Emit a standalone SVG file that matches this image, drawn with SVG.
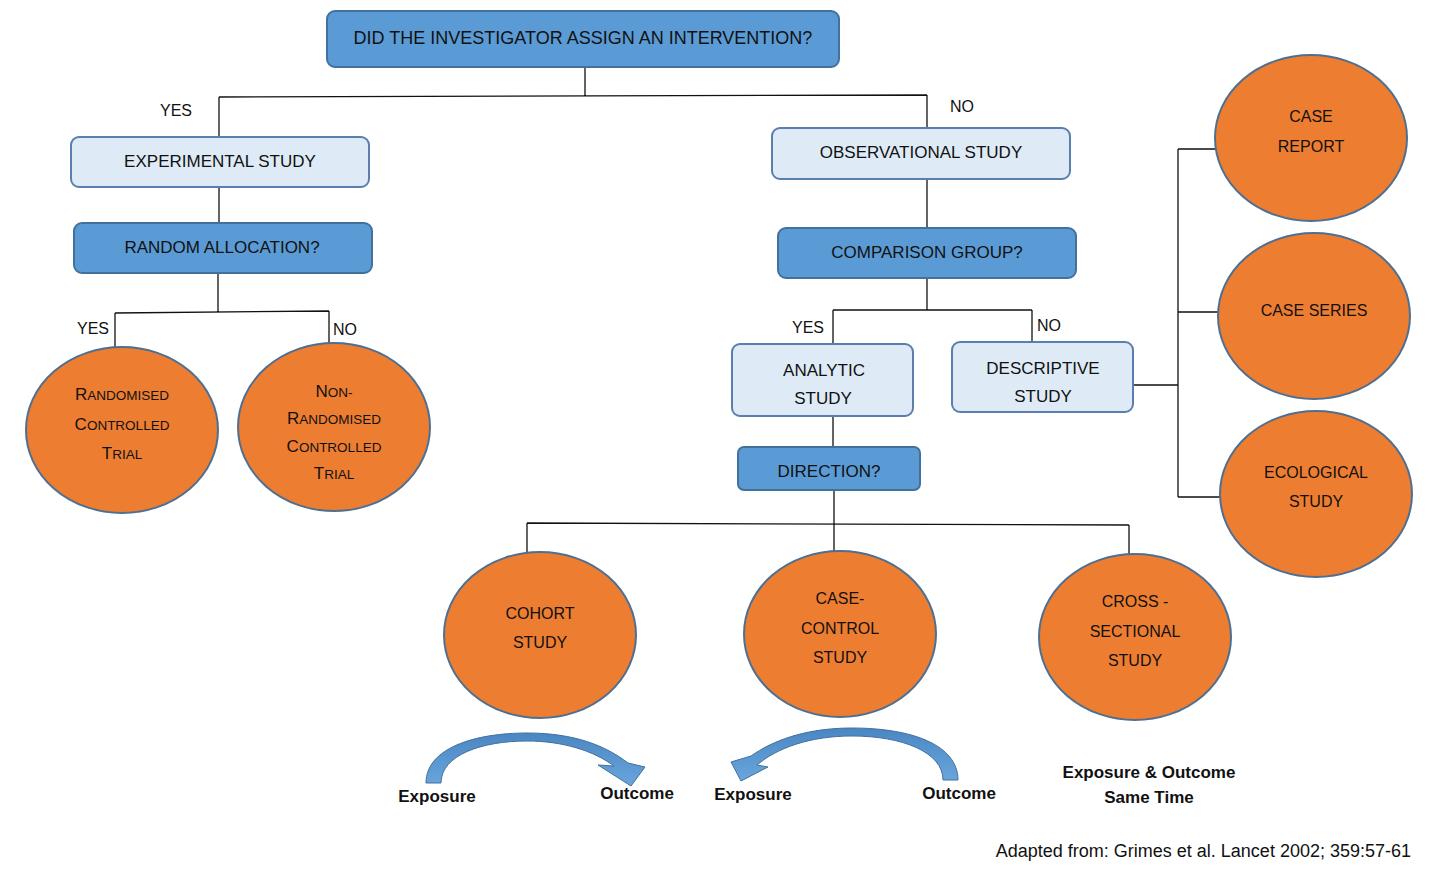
<svg xmlns="http://www.w3.org/2000/svg" width="1433" height="873" viewBox="0 0 1433 873">
<defs>
<style>
.dark{fill:#5b9bd5;stroke:#41719c;stroke-width:2}
.light{fill:#deebf7;stroke:#5a7fae;stroke-width:2}
.oval{fill:#ed7d31;stroke:#4f6f91;stroke-width:2}
.t{font-family:"Liberation Sans",Arial,sans-serif;font-size:17px;fill:#111;text-anchor:middle}
.o{font-size:16px}
.big{font-size:18px}
.lab{font-family:"Liberation Sans",Arial,sans-serif;font-size:16px;fill:#111;text-anchor:middle}
.b{font-family:"Liberation Sans",Arial,sans-serif;font-size:17px;font-weight:bold;fill:#111;text-anchor:middle}
.sc{font-size:13.5px}
.conn{stroke:#111;stroke-width:1.3;fill:none}
.arr{fill:url(#ag);stroke:#41719c;stroke-width:1}
</style>
<linearGradient id="ag" x1="0" y1="0" x2="0" y2="1">
<stop offset="0" stop-color="#4a86c2"/>
<stop offset="1" stop-color="#6aa6dc"/>
</linearGradient>
</defs>
<rect width="1433" height="873" fill="#fff"/>

<g id="connectors">
<path class="conn" d="M585,67 V96 M219,97 L927,95 M219,97 V137 M927,95 V128"/>
<path class="conn" d="M219,187 V223 M218,273 V312 M115,313 L329,311 M115,313 V347 M329,311 V345"/>
<path class="conn" d="M927,179 V228 M927,278 V310 M833,310 H1032 M833,310 V344 M1032,310 V342"/>
<path class="conn" d="M1133,385 H1178 M1178,149 V497 M1178,149 H1216 M1178,312 H1219 M1178,497 H1221"/>
<path class="conn" d="M833,416 V447 M834,490 V551 M527,523 L1129,525 M527,523 V552 M1129,525 V555"/>
</g>

<g id="labels">
<text class="lab" x="176" y="116">YES</text>
<text class="lab" x="962" y="112">NO</text>
<text class="lab" x="93" y="334">YES</text>
<text class="lab" x="345" y="335">NO</text>
<text class="lab" x="808" y="333">YES</text>
<text class="lab" x="1049" y="331">NO</text>
</g>

<g id="n-intervention">
<rect class="dark" x="327" y="11" width="512" height="56" rx="8"/>
<text class="t big" x="583" y="44">DID THE INVESTIGATOR ASSIGN AN INTERVENTION?</text>
</g>
<g id="n-experimental">
<rect class="light" x="71" y="137" width="298" height="50" rx="8"/>
<text class="t" x="220" y="167">EXPERIMENTAL STUDY</text>
</g>
<g id="n-random">
<rect class="dark" x="74" y="223" width="298" height="50" rx="8"/>
<text class="t" x="222" y="253">RANDOM ALLOCATION?</text>
</g>
<g id="n-rct">
<ellipse class="oval" cx="122" cy="430" rx="96" ry="83"/>
<text class="t" x="122" y="400">R<tspan class="sc">ANDOMISED</tspan></text>
<text class="t" x="122" y="430">C<tspan class="sc">ONTROLLED</tspan></text>
<text class="t" x="122" y="459">T<tspan class="sc">RIAL</tspan></text>
</g>
<g id="n-nrct">
<ellipse class="oval" cx="334" cy="427" rx="96" ry="84"/>
<text class="t" x="334" y="397">N<tspan class="sc">ON-</tspan></text>
<text class="t" x="334" y="424">R<tspan class="sc">ANDOMISED</tspan></text>
<text class="t" x="334" y="452">C<tspan class="sc">ONTROLLED</tspan></text>
<text class="t" x="334" y="479">T<tspan class="sc">RIAL</tspan></text>
</g>
<g id="n-observational">
<rect class="light" x="772" y="128" width="298" height="51" rx="8"/>
<text class="t" x="921" y="158">OBSERVATIONAL STUDY</text>
</g>
<g id="n-comparison">
<rect class="dark" x="778" y="228" width="298" height="50" rx="8"/>
<text class="t" x="927" y="258">COMPARISON GROUP?</text>
</g>
<g id="n-analytic">
<rect class="light" x="732" y="344" width="181" height="72" rx="8"/>
<text class="t" x="824" y="376">ANALYTIC</text>
<text class="t" x="823" y="404">STUDY</text>
</g>
<g id="n-descriptive">
<rect class="light" x="952" y="342" width="181" height="70" rx="8"/>
<text class="t" x="1043" y="374">DESCRIPTIVE</text>
<text class="t" x="1043" y="402">STUDY</text>
</g>
<g id="n-direction">
<rect class="dark" x="738" y="447" width="182" height="43" rx="6"/>
<text class="t" x="829" y="477">DIRECTION?</text>
</g>
<g id="n-casereport">
<ellipse class="oval" cx="1311" cy="138" rx="96" ry="83"/>
<text class="t o" x="1311" y="122">CASE</text>
<text class="t o" x="1311" y="152">REPORT</text>
</g>
<g id="n-caseseries">
<ellipse class="oval" cx="1314" cy="316" rx="96" ry="83"/>
<text class="t o" x="1314" y="316">CASE SERIES</text>
</g>
<g id="n-ecological">
<ellipse class="oval" cx="1316" cy="494" rx="96" ry="83"/>
<text class="t o" x="1316" y="478">ECOLOGICAL</text>
<text class="t o" x="1316" y="507">STUDY</text>
</g>
<g id="n-cohort">
<ellipse class="oval" cx="540" cy="635" rx="96" ry="83"/>
<text class="t o" x="540" y="619">COHORT</text>
<text class="t o" x="540" y="648">STUDY</text>
</g>
<g id="n-casecontrol">
<ellipse class="oval" cx="840" cy="634" rx="96" ry="83"/>
<text class="t o" x="840" y="604">CASE-</text>
<text class="t o" x="840" y="634">CONTROL</text>
<text class="t o" x="840" y="663">STUDY</text>
</g>
<g id="n-crosssectional">
<ellipse class="oval" cx="1135" cy="637" rx="96" ry="83"/>
<text class="t o" x="1135" y="607">CROSS -</text>
<text class="t o" x="1135" y="637">SECTIONAL</text>
<text class="t o" x="1135" y="666">STUDY</text>
</g>

<g id="direction-arrows">
<path class="arr" d="M426,783 C426,748 475,733 527,733 C575,733 606,746 628,763 L645,767 L631,786 L598,765 L614,766 C594,751 563,741 527,741 C482,741 441,755 441,783 Z"/>
<path class="arr" d="M958,780 C958,745 912,728 852,728 C805,728 772,741 751,756 L731,762 L741,781 L768,767 L757,765 C777,748 810,736 852,736 C902,736 943,752 943,780 Z"/>
<text class="b" x="437" y="802">Exposure</text>
<text class="b" x="637" y="799">Outcome</text>
<text class="b" x="753" y="800">Exposure</text>
<text class="b" x="959" y="799">Outcome</text>
<text class="b" x="1149" y="778">Exposure &amp; Outcome</text>
<text class="b" x="1149" y="803">Same Time</text>
</g>

<text x="1411" y="857" font-family="'Liberation Sans',Arial,sans-serif" font-size="18" fill="#111" text-anchor="end">Adapted from: Grimes et al. Lancet 2002; 359:57-61</text>
</svg>
